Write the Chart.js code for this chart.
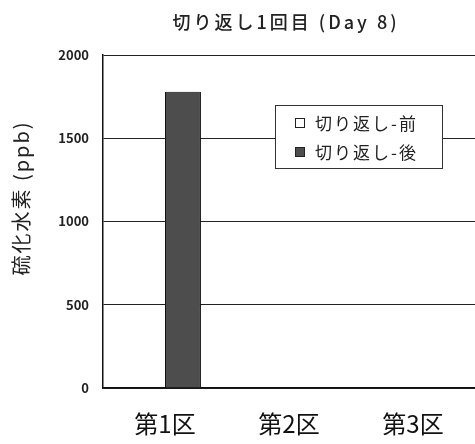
<!DOCTYPE html>
<html>
<head>
<meta charset="utf-8">
<script src="https://cdn.jsdelivr.net/npm/chart.js@4/dist/chart.umd.min.js"></script>
<style>
  html, body { margin: 0; padding: 0; background: #fff; }
  #wrap { width: 475px; height: 444px; }
</style>
</head>
<body>
<div id="wrap"><canvas id="h2sChart"></canvas></div>
<script>
const titleText = '切り返し1回目 (Day 8)';
const yTitle = '硫化水素 (ppb)';
const categories = ['第1区', '第2区', '第3区'];
const seriesNames = ['切り返し-前', '切り返し-後'];
const beforeValues = [0, 0, 0];
const afterValues = [1780, 0, 0];
const yTicks = [0, 500, 1000, 1500, 2000];

const font = '"Noto Sans CJK JP", "Noto Sans", sans-serif';

// title, y title and legend box drawn on top of the chart
const overlay = {
  id: 'overlay',
  afterDraw(chart) {
    const c = chart.ctx;
    c.save();
    c.fillStyle = '#222';
    c.font = '500 18px ' + font;
    c.letterSpacing = '3px';
    c.textAlign = 'center';
    c.textBaseline = 'middle';
    c.fillText(titleText, 286, 22);

    c.save();
    c.translate(21, 198);
    c.rotate(-Math.PI / 2);
    c.font = '20px ' + font;
    c.letterSpacing = '2px';
    c.fillText(yTitle, 0, 0);
    c.restore();

    // legend
    const bx = 275, by = 105, bw = 167, bh = 63;
    c.fillStyle = '#fff';
    c.fillRect(bx, by, bw, bh);
    c.strokeStyle = '#333';
    c.lineWidth = 1;
    c.strokeRect(bx + 0.5, by + 0.5, bw, bh);
    c.font = '17px ' + font;
    c.letterSpacing = '2px';
    c.textAlign = 'left';
    chart.data.datasets.forEach((ds, i) => {
      const y = by + 18 + i * 29;
      c.fillStyle = ds.backgroundColor;
      c.fillRect(bx + 20, y - 5, 10, 10);
      c.strokeStyle = '#222';
      c.strokeRect(bx + 20.5, y - 4.5, 9, 9);
      c.fillStyle = '#222';
      c.fillText(ds.label, bx + 40, y + 1);
    });
    c.restore();
  }
};

new Chart(document.getElementById('h2sChart'), {
  type: 'bar',
  data: {
    labels: categories,
    datasets: [
      {
        label: seriesNames[0],
        data: beforeValues,
        backgroundColor: '#ffffff',
        borderColor: '#111',
        borderWidth: 1
      },
      {
        label: seriesNames[1],
        data: afterValues,
        backgroundColor: '#4d4d4d',
        borderColor: '#111',
        borderWidth: 1
      }
    ]
  },
  options: {
    responsive: true,
    maintainAspectRatio: false,
    animation: false,
    layout: { padding: { top: 55, right: 0, left: 0, bottom: 0 } },
    datasets: {
      bar: { categoryPercentage: 0.58, barPercentage: 1.0 }
    },
    plugins: {
      legend: { display: false },
      title: { display: false },
      tooltip: { enabled: false }
    },
    scales: {
      x: {
        afterFit: s => { s.height = 56; },
        grid: { display: false },
        border: { color: '#111', width: 1.5 },
        ticks: {
          color: '#111',
          padding: 13,
          font: { family: font, size: 24 }
        }
      },
      y: {
        min: 0,
        max: 2000,
        afterFit: s => { s.width = 103; },
        afterBuildTicks: s => { s.ticks = yTicks.map(v => ({ value: v })); },
        border: { color: '#111', width: 1.5 },
        grid: { color: '#222', lineWidth: 1, drawTicks: false },
        ticks: {
          color: '#222',
          padding: 14,
          callback: v => String(v),
          font: { family: font, size: 13, weight: 'bold' }
        }
      }
    }
  },
  plugins: [overlay]
});
</script>
</body>
</html>
